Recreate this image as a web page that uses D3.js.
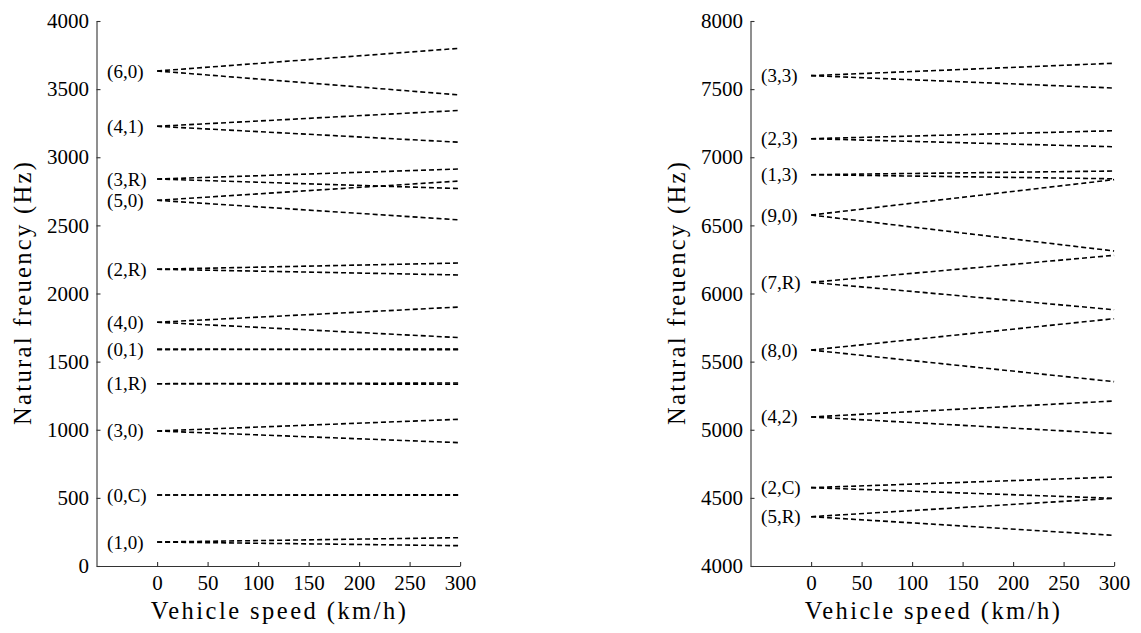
<!DOCTYPE html>
<html>
<head>
<meta charset="utf-8">
<script src="https://cdn.jsdelivr.net/npm/d3@7"></script>
<style>
  html, body { margin: 0; padding: 0; background: #fff; }
  svg { display: block; }
</style>
</head>
<body>
<svg id="chart" width="1141" height="633"></svg>
<script>
// ---- data ----
const speeds = [0, 300];
const xTicks = [0, 50, 100, 150, 200, 250, 300];

const leftModes = ["(6,0)", "(4,1)", "(3,R)", "(5,0)", "(2,R)", "(4,0)", "(0,1)", "(1,R)", "(3,0)", "(0,C)", "(1,0)"];
const leftStart = [3633, 3227, 2840, 2684, 2178, 1789, 1590, 1338, 991, 521, 176];
const leftUpper = [3800, 3344, 2914, 2826, 2224, 1901, 1592, 1343, 1077, 522, 208];
const leftLower = [3457, 3110, 2770, 2540, 2136, 1676, 1588, 1334, 905, 520, 149];
const leftYTicks = [0, 500, 1000, 1500, 2000, 2500, 3000, 3500, 4000];

const rightModes = ["(3,3)", "(2,3)", "(1,3)", "(9,0)", "(7,R)", "(8,0)", "(4,2)", "(2,C)", "(5,R)"];
const rightStart = [7599, 7136, 6872, 6576, 6082, 5585, 5094, 4575, 4362];
const rightUpper = [7690, 7195, 6899, 6836, 6280, 5815, 5211, 4653, 4497];
const rightLower = [7508, 7077, 6842, 6312, 5881, 5353, 4971, 4497, 4225];
const rightYTicks = [4000, 4500, 5000, 5500, 6000, 6500, 7000, 7500, 8000];

const xTitle = "Vehicle speed (km/h)";
const yTitle = "Natural freuency (Hz)";

// ---- drawing ----
const FONT = '"Liberation Serif", "DejaVu Serif", serif';
const svg = d3.select("#chart");

function drawPanel(cfg) {
  const g = svg.append("g");
  const x = d3.scaleLinear().domain([-60, 300]).range([cfg.axisX, cfg.axisX + 363.6]);
  const y = d3.scaleLinear().domain(cfg.yDomain).range([566, 21]);

  // mode lines
  cfg.modes.forEach((m, i) => {
    const pairs = [
      [[speeds[0], cfg.start[i]], [speeds[1], cfg.upper[i]]],
      [[speeds[0], cfg.start[i]], [speeds[1], cfg.lower[i]]]
    ];
    pairs.forEach(p => {
      g.append("path")
        .attr("d", d3.line().x(d => x(d[0])).y(d => y(d[1]))(p))
        .attr("fill", "none")
        .attr("stroke", "#000")
        .attr("stroke-width", 1.6)
        .attr("stroke-dasharray", "5,3");
    });
    g.append("text")
      .attr("x", x(0) - 50)
      .attr("y", y(cfg.start[i]))
      .attr("text-anchor", "start")
      .attr("dominant-baseline", "central")
      .style("font-family", FONT)
      .style("font-size", "19px")
      .attr("fill", "#000")
      .text(m);
  });

  // y axis
  const ya = g.append("g")
    .attr("transform", `translate(${cfg.axisX},0)`)
    .call(d3.axisLeft(y).tickValues(cfg.yTicks).tickFormat(d3.format("d"))
      .tickSizeInner(-4).tickSizeOuter(0).tickPadding(7.5));
  // x axis
  const xa = g.append("g")
    .attr("transform", `translate(0,566)`)
    .call(d3.axisBottom(x).tickValues(xTicks).tickFormat(d3.format("d"))
      .tickSizeInner(-4).tickSizeOuter(0).tickPadding(9));
  [ya, xa].forEach(a => {
    a.attr("font-family", FONT).attr("font-size", 21);
    a.selectAll("path.domain").attr("stroke", "#333").attr("stroke-width", 1.1);
    a.selectAll(".tick line").attr("stroke", "#333").attr("stroke-width", 1.1);
    a.selectAll("text").style("font-family", FONT)
      .style("font-size", "21px").attr("fill", "#000");
  });

  // titles
  g.append("text")
    .attr("x", (cfg.axisX + x(300)) / 2)
    .attr("y", 619)
    .attr("text-anchor", "middle")
    .style("font-family", FONT)
    .style("font-size", "24.5px")
    .attr("textLength", 255)
    .attr("lengthAdjust", "spacing")
    .attr("fill", "#000")
    .text(xTitle);
  g.append("text")
    .attr("transform", `translate(${cfg.axisX - 74},293.5) rotate(-90)`)
    .attr("text-anchor", "middle")
    .attr("dominant-baseline", "central")
    .style("font-family", FONT)
    .style("font-size", "24.5px")
    .attr("textLength", 263)
    .attr("lengthAdjust", "spacing")
    .attr("fill", "#000")
    .text(yTitle);
}

drawPanel({ axisX: 96.5, yDomain: [0, 4000], yTicks: leftYTicks,
  modes: leftModes, start: leftStart, upper: leftUpper, lower: leftLower });
drawPanel({ axisX: 750.5, yDomain: [4000, 8000], yTicks: rightYTicks,
  modes: rightModes, start: rightStart, upper: rightUpper, lower: rightLower });
</script>
</body>
</html>
